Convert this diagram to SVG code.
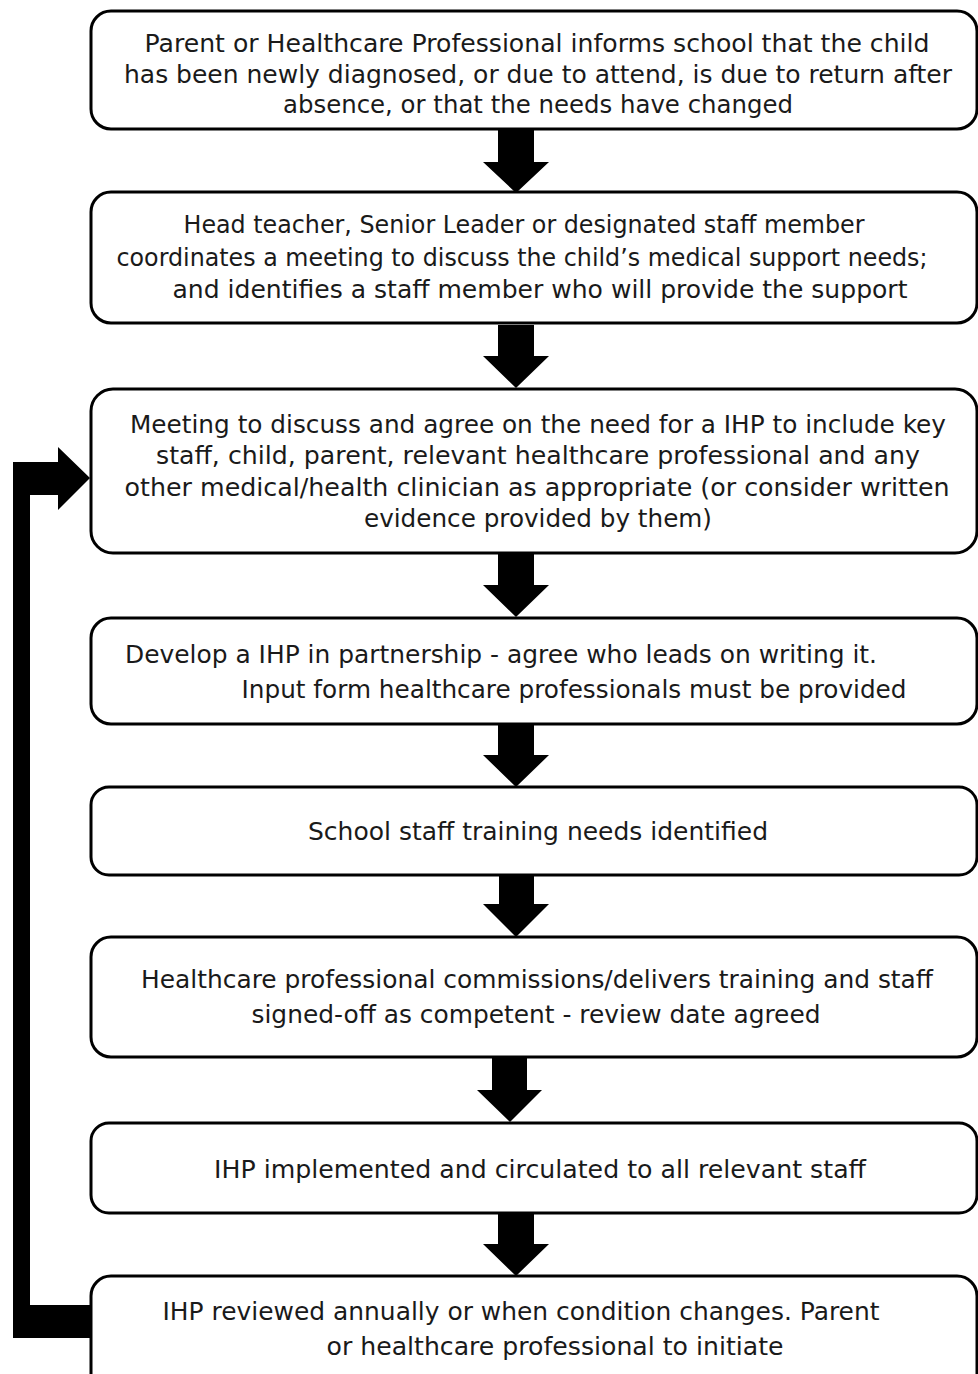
<svg xmlns="http://www.w3.org/2000/svg" width="978" height="1374" viewBox="0 0 978 1374">
<style>
.box{fill:#fff;stroke:#000;stroke-width:3}
.t{font-family:"DejaVu Sans","Open Sans",sans-serif;font-size:24.5px;fill:#1a1a1a;text-anchor:middle}
.arr{fill:#000}
</style>
<rect width="978" height="1374" fill="#fff"/>
<g id="connectors">
<path class="arr" d="M498,130 L534,130 L534,162 L549,162 L516,193 L483,162 L498,162 Z"/>
<path class="arr" d="M498,325 L534,325 L534,356 L549,356 L516,388 L483,356 L498,356 Z"/>
<path class="arr" d="M498,554 L534,554 L534,585 L549,585 L516,617 L483,585 L498,585 Z"/>
<path class="arr" d="M498,725 L534,725 L534,755 L549,755 L516,787 L483,755 L498,755 Z"/>
<path class="arr" d="M499,875 L534,875 L534,904 L549,904 L516,937 L483,904 L499,904 Z"/>
<path class="arr" d="M492,1057 L527,1057 L527,1090 L542,1090 L510,1122 L477,1090 L492,1090 Z"/>
<path class="arr" d="M498,1213 L534,1213 L534,1244 L549,1244 L516,1276 L483,1244 L498,1244 Z"/>
<path class="arr" d="M13,462 L58,462 L58,447 L90,478 L58,510 L58,495 L30,495 L30,1305 L90,1305 L90,1338 L13,1338 Z"/>
</g>
<g id="n1"><rect class="box" x="91" y="11" width="886" height="118" rx="20"/>
<text class="t" x="537" y="52" textLength="785" lengthAdjust="spacingAndGlyphs">Parent or Healthcare Professional informs school that the child</text>
<text class="t" x="538" y="83" textLength="828" lengthAdjust="spacingAndGlyphs">has been newly diagnosed, or due to attend, is due to return after</text>
<text class="t" x="538" y="113" textLength="510" lengthAdjust="spacingAndGlyphs">absence, or that the needs have changed</text></g>
<g id="n2"><rect class="box" x="91" y="192" width="886" height="131" rx="20"/>
<text class="t" x="524" y="233" textLength="681" lengthAdjust="spacingAndGlyphs">Head teacher, Senior Leader or designated staff member</text>
<text class="t" x="522" y="266" textLength="811" lengthAdjust="spacingAndGlyphs">coordinates a meeting to discuss the child’s medical support needs;</text>
<text class="t" x="540" y="298" textLength="735" lengthAdjust="spacingAndGlyphs">and identifies a staff member who will provide the support</text></g>
<g id="n3"><rect class="box" x="91" y="389" width="886" height="164" rx="22"/>
<text class="t" x="538" y="433" textLength="816" lengthAdjust="spacingAndGlyphs">Meeting to discuss and agree on the need for a IHP to include key</text>
<text class="t" x="538" y="464" textLength="764" lengthAdjust="spacingAndGlyphs">staff, child, parent, relevant healthcare professional and any</text>
<text class="t" x="537" y="496" textLength="825" lengthAdjust="spacingAndGlyphs">other medical/health clinician as appropriate (or consider written</text>
<text class="t" x="538" y="527" textLength="348" lengthAdjust="spacingAndGlyphs">evidence provided by them)</text></g>
<g id="n4"><rect class="box" x="91" y="618" width="886" height="106" rx="20"/>
<text class="t" x="501" y="663" textLength="752" lengthAdjust="spacingAndGlyphs">Develop a IHP in partnership - agree who leads on writing it.</text>
<text class="t" x="574" y="698" textLength="665" lengthAdjust="spacingAndGlyphs">Input form healthcare professionals must be provided</text></g>
<g id="n5"><rect class="box" x="91" y="787" width="886" height="88" rx="18"/>
<text class="t" x="538" y="840" textLength="460" lengthAdjust="spacingAndGlyphs">School staff training needs identified</text></g>
<g id="n6"><rect class="box" x="91" y="937" width="886" height="120" rx="20"/>
<text class="t" x="537" y="988" textLength="792" lengthAdjust="spacingAndGlyphs">Healthcare professional commissions/delivers training and staff</text>
<text class="t" x="536" y="1023" textLength="569" lengthAdjust="spacingAndGlyphs">signed-off as competent - review date agreed</text></g>
<g id="n7"><rect class="box" x="91" y="1123" width="886" height="90" rx="18"/>
<text class="t" x="540" y="1178" textLength="652" lengthAdjust="spacingAndGlyphs">IHP implemented and circulated to all relevant staff</text></g>
<g id="n8"><rect class="box" x="91" y="1276" width="886" height="130" rx="20"/>
<text class="t" x="521" y="1320" textLength="717" lengthAdjust="spacingAndGlyphs">IHP reviewed annually or when condition changes. Parent</text>
<text class="t" x="555" y="1355" textLength="457" lengthAdjust="spacingAndGlyphs">or healthcare professional to initiate</text></g>
</svg>
